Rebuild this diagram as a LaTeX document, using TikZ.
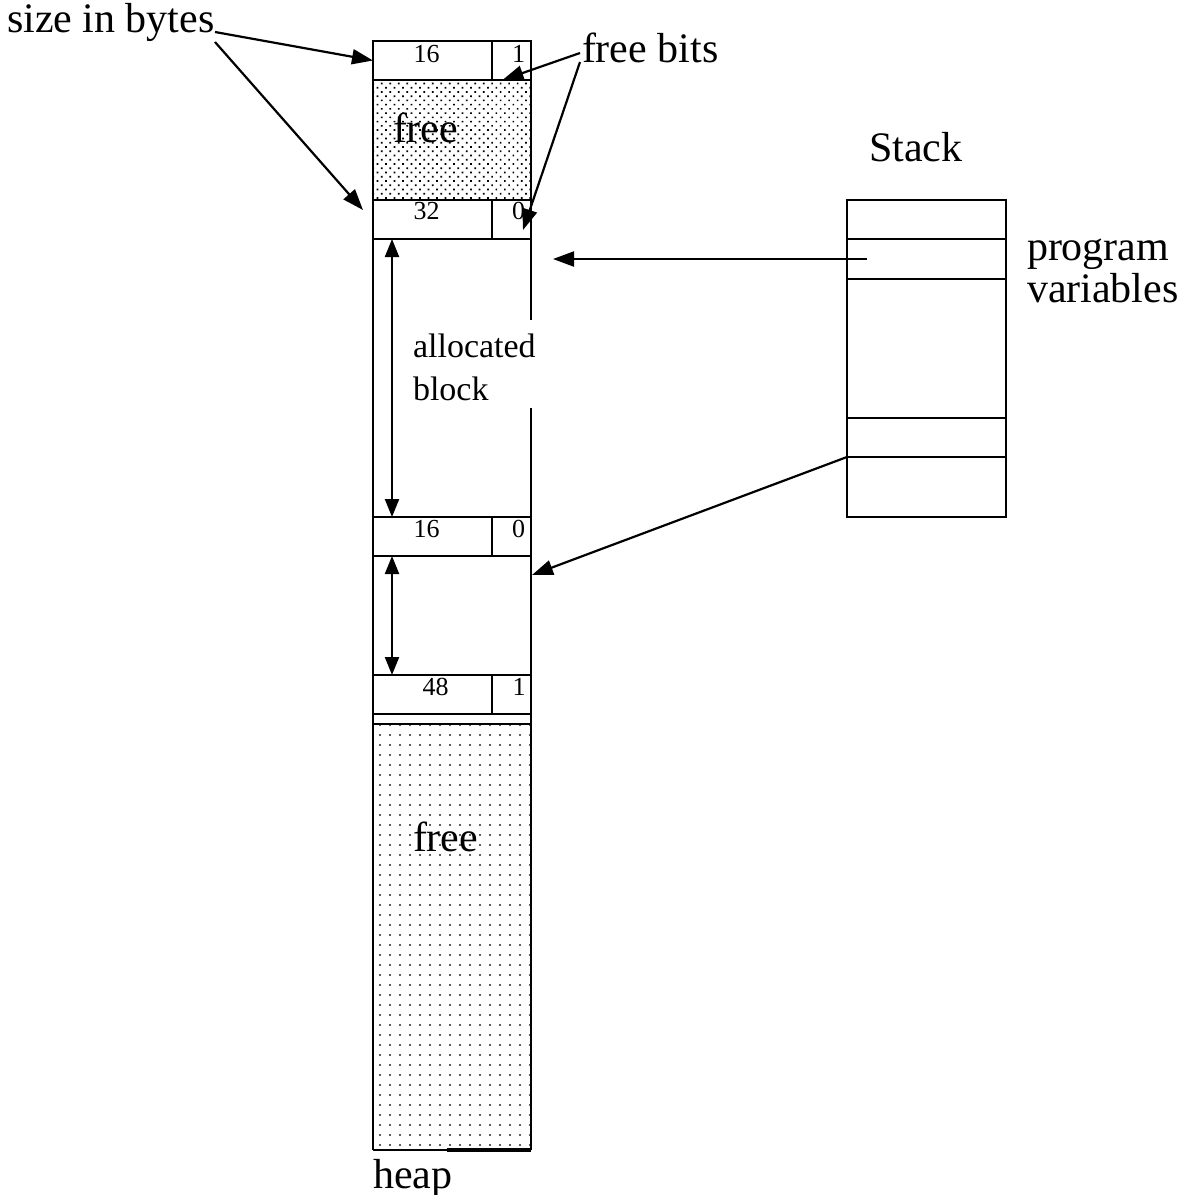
\documentclass[tikz,border=0pt]{standalone}
\usepackage{fontspec}
\setmainfont{Liberation Serif}
\usetikzlibrary{arrows.meta,patterns.meta}
\begin{document}
\begin{tikzpicture}[x=1pt,y=-1pt,
  every node/.style={inner sep=0pt, outer sep=0pt},
  cell/.style={draw, line width=2.5pt, minimum height=39pt, anchor=north west},
  big/.style={font=\fontsize{42}{42}\selectfont, anchor=base west},
  num/.style={font=\fontsize{26}{26}\selectfont, anchor=base},
  mid/.style={font=\fontsize{34}{43}\selectfont, anchor=base west, align=left},
  arr/.style={line width=2.2pt, -{Triangle[length=21pt,width=15pt]}},
  darr/.style={line width=2.2pt, {Triangle[length=18pt,width=14pt]}-{Triangle[length=18pt,width=14pt]}},
  border/.style={line width=2.6pt},
  thinline/.style={line width=2.4pt}
]
\useasboundingbox (0,0) rectangle (1177,1195);

% dotted free areas
\fill[pattern={Dots[distance=6pt,angle=45,radius=1.2pt]}, pattern color=black] (373,80) rectangle (531,200);
\fill[pattern={Dots[distance=10pt,radius=1.2pt]}, pattern color=black!85] (373,724) rectangle (531,1150);

% header cells
\node[cell, minimum width=119pt] (h1s) at (373,41) {};
\node[cell, minimum width=39pt]  (h1f) at (492,41) {};
\node[cell, minimum width=119pt] (h2s) at (373,200) {};
\node[cell, minimum width=39pt]  (h2f) at (492,200) {};
\node[cell, minimum width=119pt] (h3s) at (373,517) {};
\node[cell, minimum width=39pt]  (h3f) at (492,517) {};
\node[cell, minimum width=119pt] (h4s) at (373,675) {};
\node[cell, minimum width=39pt]  (h4f) at (492,675) {};

% numbers
\node[num] (n1s) at (426.5,62) {16};
\node[num] (n1f) at (518.5,62) {1};
\node[num] (n2s) at (426.5,219) {32};
\node[num] (n2f) at (518.5,219) {0};
\node[num] (n3s) at (426.5,537) {16};
\node[num] (n3f) at (518.5,537) {0};
\node[num] (n4s) at (435.5,695) {48};
\node[num] (n4f) at (519,695) {1};

% heap borders
\coordinate (hbl) at (373,1150);
\coordinate (hbm) at (447,1150);
\coordinate (hbr) at (531,1150);
\coordinate (rgapT) at (531,320);
\coordinate (rgapB) at (531,408);
\coordinate (stripL) at (373,724);
\coordinate (stripR) at (531,724);
\draw[border] (h1s.north west) -- (hbl);
\draw[line width=1.6pt] (hbl) -- (hbm);
\draw[line width=3.2pt] (hbm) -- (hbr);
\draw[border] (h1f.north east) -- (rgapT);
\draw[border] (rgapB) -- (hbr);
\draw[border] (stripL) -- (stripR);

% texts
\node[big] (free1) at (393,142) {free};
\node[big] (free2) at (413,851) {free};
\node[mid] (alloc) at (413,400) {allocated\\block};
\node[big] (heap) at (373,1188) {heap};
\node[big] (sib) at (7,32) {size in bytes};
\node[big] (fb) at (582,62) {free bits};
\node[big] (stacklbl) at (869,161) {Stack};
\node[font=\fontsize{42}{42}\selectfont, anchor=base west, align=left] (pv) at (1027,302) {program\\variables};

% double arrows
\draw[darr] ([xshift=19pt]h2s.south west) -- ([xshift=19pt]h3s.north west);
\draw[darr] ([xshift=19pt]h3s.south west) -- ([xshift=19pt]h4s.north west);

% stack
\node[draw, line width=2.4pt, minimum width=159pt, minimum height=317pt, anchor=north west] (stk) at (847,200) {};
\foreach \yy in {239,279,418,457} \draw[thinline] (stk.west |- 0,\yy) -- (stk.east |- 0,\yy);

% annotation arrows
\coordinate (sibA) at (215,32);
\coordinate (sibB) at (215,42);
\coordinate (szT2) at (363,210);
\draw[arr] (sibA) -- (h1s.west);
\draw[arr] (sibB) -- (szT2);

\coordinate (fbA) at (580,53);
\coordinate (fbB) at (580,62);
\coordinate (fbT2) at (523,230);
\draw[arr] (fbA) -- ([xshift=-9pt]h1f.south);
\draw[arr] (fbB) -- (fbT2);

\coordinate (sv) at (867,259);
\coordinate (hp1) at (553,259);
\draw[arr] (sv) -- (hp1);
\coordinate (sp) at (847,457);
\coordinate (hp2) at (532,575);
\draw[arr] (sp) -- (hp2);
\end{tikzpicture}
\end{document}
